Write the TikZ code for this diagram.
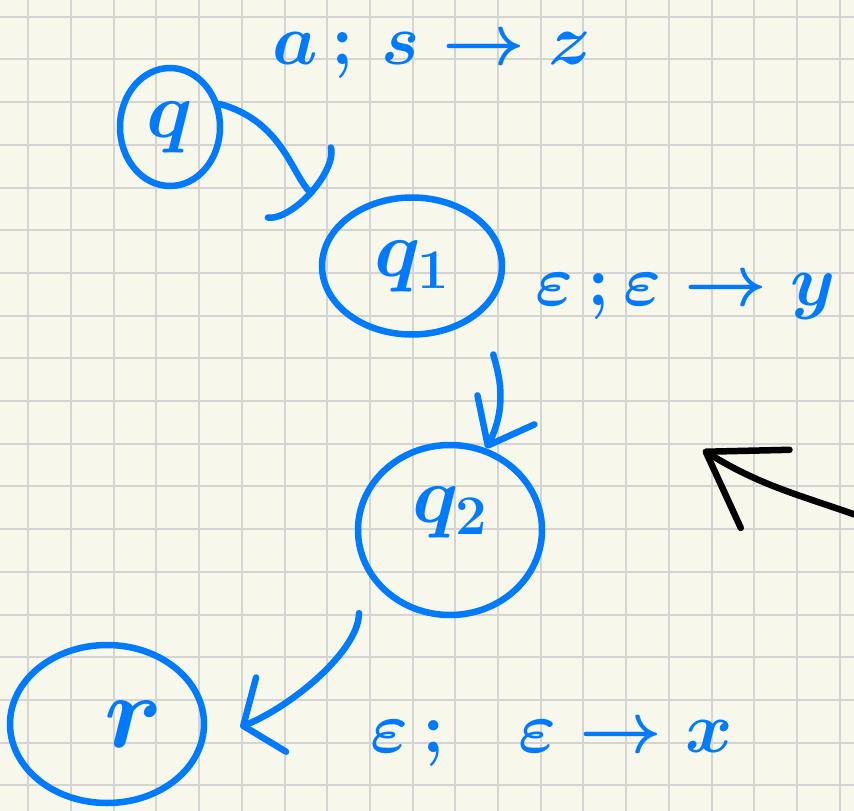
\RequirePackage{fix-cm}
\documentclass[tikz,border=0pt]{standalone}
\usepackage{tikz}
\usetikzlibrary{arrows.meta,calc,positioning,shapes.geometric}
\definecolor{penblue}{RGB}{0,122,255}
\definecolor{paper}{RGB}{248,247,236}
\definecolor{gridgray}{RGB}{212,212,210}
\tikzset{
    mystate/.style={ellipse,draw=penblue,line width=6.5pt,inner sep=0pt,text=penblue,font=\fontsize{80}{80}\selectfont\boldmath},
    myedge/.style={draw=penblue,line width=6.5pt,line cap=round},
    mylabel/.style={text=penblue,inner sep=0pt,anchor=base west,font=\fontsize{72}{72}\selectfont\boldmath},
    gridline/.style={draw=gridgray,line width=2pt}
}
\begin{document}
\begin{tikzpicture}[x=1pt,y=-1pt]
  \fill[paper] (0,0) rectangle (854,811);
  \useasboundingbox (0,0) rectangle (854,811);

  \foreach \i in {0,...,19}{
    \draw[gridline] (28.3+42.7*\i,0) -- (28.3+42.7*\i,811);
  }
  \foreach \j in {0,...,18}{
    \draw[gridline] (0,16.7+42.7*\j) -- (854,16.7+42.7*\j);
  }

  \node[mystate,minimum width=100pt,minimum height=118pt] (q) at (170,127) {$q$};
  \node[mystate,minimum width=180pt,minimum height=137pt] (q1) at (412,266) {$q_1$};
  \node[mystate,minimum width=184pt,minimum height=170pt,text depth=50pt] (q2) at (450,530) {$q_2$};
  \node[mystate,minimum width=194pt,minimum height=158pt,text width=112pt,align=right,
    font=\fontsize{104}{104}\selectfont\boldmath] (r) at (107,724) {$r$};

  \draw[myedge,-{Arc Barb[round,arc=150,length=24pt,width=104pt]},shorten >=37pt]
    (q.25) to[out=-15,in=138] (q1.147);
  \draw[myedge,-{Straight Barb[round,length=40pt,width=64pt]},shorten <=45pt]
    (q1.-31) to[out=-80,in=63] (q2.66);
  \draw[myedge,-{Straight Barb[round,length=30pt,width=80pt]},shorten <=57pt,shorten >=38pt]
    (q2.196) to[out=-90,in=22] (r.-10);

  \node[mylabel] (lab01) at (272,64) {$a\,;\,s\to z$};
  \node[mylabel] (lab12) at (535,305) {$\varepsilon\,;\varepsilon\to y$};
  \node[mylabel] (lab2r) at (370,752) {$\varepsilon\,;\;\;\,\varepsilon\to x$};

  \coordinate (pointS) at (870,520);
  \coordinate (pointE) at (703,450);
  \draw[myedge,draw=black,-{Straight Barb[round,length=70pt,width=92pt]}]
    (pointS) to[out=160,in=-32] (pointE);
\end{tikzpicture}
\end{document}
